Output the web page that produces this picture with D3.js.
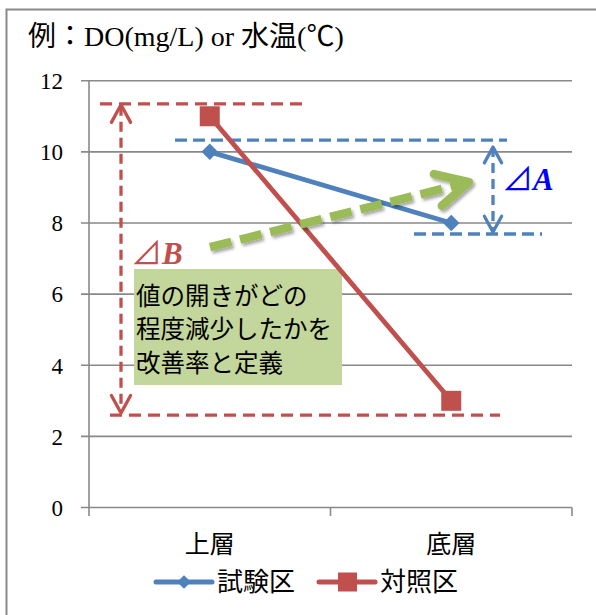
<!DOCTYPE html>
<html>
<head>
<meta charset="utf-8">
<script src="https://cdn.jsdelivr.net/npm/d3@7/dist/d3.min.js"></script>
<style>
  html, body { margin: 0; padding: 0; background: #fff; }
  svg { display: block; }
  text { font-family: 'Liberation Serif', 'Noto Sans CJK JP', serif; fill: #000; }
</style>
</head>
<body>
<svg id="chart" width="596" height="615"></svg>
<script>
// Layers and series
const categories = ["上層", "底層"];
const seriesNames = ["試験区", "対照区"];
const testValues = [10, 8];      // 試験区
const controlValues = [11, 3];   // 対照区
const yTicks = [0, 2, 4, 6, 8, 10, 12];
const titleText = "例：DO(mg/L) or 水温(℃)";
const noteLines = ["値の開きがどの", "程度減少したかを", "改善率と定義"];

const BLUE = "#4f81bd", RED = "#c0504d", GREEN = "#9bbb59", GRID = "#898989";
const SERIF = "'Liberation Serif', 'Noto Sans CJK JP', serif";

const svg = d3.select("#chart");
const W = 596, H = 615;
const plot = { left: 89, right: 572, top: 80.7, bottom: 507.5 };

const x = d3.scaleBand().domain(categories).range([plot.left, plot.right]).padding(0);
const xc = c => x(c) + x.bandwidth() / 2;
const y = d3.scaleLinear().domain([0, 12]).range([plot.bottom, plot.top]);

// drop shadow for the green arrow
const defs = svg.append("defs");
const f = defs.append("filter").attr("id", "shadow").attr("x", "-10%").attr("y", "-30%")
  .attr("width", "130%").attr("height", "170%");
f.append("feDropShadow").attr("dx", 2).attr("dy", 2.5).attr("stdDeviation", 1.6)
  .attr("flood-color", "#000").attr("flood-opacity", 0.35);

// outer frame (top and left edges visible)
svg.append("path").attr("d", `M6.5,${H} V9.5 H${W}`)
  .attr("fill", "none").attr("stroke", GRID).attr("stroke-width", 2);

// title
svg.append("text").attr("x", 28).attr("y", 46).attr("font-family", SERIF)
  .attr("font-size", 28).text(titleText);

// gridlines
svg.append("g").selectAll("line").data(yTicks).join("line")
  .attr("x1", plot.left - 8).attr("x2", plot.right)
  .attr("y1", d => y(d)).attr("y2", d => y(d))
  .attr("stroke", GRID).attr("stroke-width", 1.6);

// y axis line
svg.append("line").attr("x1", plot.left).attr("x2", plot.left)
  .attr("y1", plot.top).attr("y2", plot.bottom)
  .attr("stroke", GRID).attr("stroke-width", 1.6);

// x axis tick marks at band boundaries
const bounds = [plot.left, ...categories.slice(1).map(c => x(c)), plot.right];
svg.append("g").selectAll("line").data(bounds).join("line")
  .attr("x1", d => d).attr("x2", d => d)
  .attr("y1", plot.bottom).attr("y2", plot.bottom + 8.5)
  .attr("stroke", GRID).attr("stroke-width", 1.6);

// y labels
svg.append("g").selectAll("text").data(yTicks).join("text")
  .attr("x", 63).attr("y", d => y(d)).attr("dy", "0.36em")
  .attr("text-anchor", "end").attr("font-family", "'DejaVu Serif', serif")
  .attr("font-size", 23).text(d => d);

// x labels
svg.append("g").selectAll("text").data(categories).join("text")
  .attr("x", d => xc(d)).attr("y", 544).attr("dy", "0.36em")
  .attr("text-anchor", "middle").attr("font-size", 25).text(d => d);

// annotation helpers
function dashed(g, x1, y1, x2, y2, color, w, dash) {
  g.append("line").attr("x1", x1).attr("y1", y1).attr("x2", x2).attr("y2", y2)
    .attr("stroke", color).attr("stroke-width", w).attr("stroke-dasharray", dash);
}
function chevron(g, tx, ty, fx, fy, len, ang, color, w) {
  const a = Math.atan2(fy - ty, fx - tx);
  const p1 = [tx + len * Math.cos(a + ang), ty + len * Math.sin(a + ang)];
  const p2 = [tx + len * Math.cos(a - ang), ty + len * Math.sin(a - ang)];
  g.append("path").attr("d", `M${p1}L${tx},${ty}L${p2}`)
    .attr("fill", "none").attr("stroke", color).attr("stroke-width", w)
    .attr("stroke-linecap", "round").attr("stroke-linejoin", "round");
}

const ann = svg.append("g");

// control-plot span (⊿B)
const redTop = 11.35, redBottom = 2.6, redX = 121;
dashed(ann, 100, y(redTop), 305, y(redTop), RED, 3.3, "12,7");
dashed(ann, 110, y(redBottom), 500, y(redBottom), RED, 3.3, "12,7");
dashed(ann, redX, y(redTop) + 2, redX, y(redBottom) - 2, RED, 3.3, "10,6");
chevron(ann, redX, y(redTop) + 1, redX, y(redBottom), 20, 0.5, RED, 3.3);
chevron(ann, redX, y(redBottom) - 2, redX, y(redTop), 20, 0.5, RED, 3.3);

// test-plot span (⊿A)
const blueTop = 10.33, blueBottom = 7.69, blueX = 493;
dashed(ann, 175, y(blueTop), 507, y(blueTop), BLUE, 3.3, "12,6");
dashed(ann, 414, y(blueBottom), 542, y(blueBottom), BLUE, 3.3, "12,6");
dashed(ann, blueX, y(blueTop) + 7, blueX, y(blueBottom) - 2, BLUE, 3.3, "10,6");
chevron(ann, blueX, y(blueTop) + 7, blueX, y(blueBottom), 18, 0.5, BLUE, 3.3);
chevron(ann, blueX, y(blueBottom) - 2, blueX, y(blueTop), 18, 0.5, BLUE, 3.3);

// note box
ann.append("rect").attr("x", 134).attr("y", 269).attr("width", 208).attr("height", 116)
  .attr("fill", "#c3d69b");
ann.append("g").selectAll("text").data(noteLines).join("text")
  .attr("x", 136).attr("y", (d, i) => 296 + i * 33.5).attr("dy", "0.35em")
  .attr("font-size", 24.5).text(d => d);

// series lines
const line = d3.line().x(d => xc(d.c)).y(d => y(d.v));
const testPts = categories.map((c, i) => ({ c, v: testValues[i] }));
const ctrlPts = categories.map((c, i) => ({ c, v: controlValues[i] }));

svg.append("path").datum(testPts).attr("d", line)
  .attr("fill", "none").attr("stroke", BLUE).attr("stroke-width", 4.8).attr("stroke-linecap", "round");
svg.append("path").datum(ctrlPts).attr("d", line)
  .attr("fill", "none").attr("stroke", RED).attr("stroke-width", 4.8).attr("stroke-linecap", "round");

const diamond = d3.symbol().type(d3.symbolDiamond2).size(175);
svg.append("g").selectAll("path").data(testPts).join("path")
  .attr("transform", d => `translate(${xc(d.c)},${y(d.v)})`)
  .attr("d", diamond).attr("fill", BLUE);
svg.append("g").selectAll("rect").data(ctrlPts).join("rect")
  .attr("x", d => xc(d.c) - 10).attr("y", d => y(d.v) - 10)
  .attr("width", 20).attr("height", 20).attr("fill", RED);

// green trend arrow
const gA = svg.append("g").attr("filter", "url(#shadow)");
const g0 = [210, y(7.32)], g1 = [469, y(9.15)];
dashed(gA, g0[0], g0[1], g1[0] - 6, g1[1] + 1.5, GREEN, 8.5, "22,9");
chevron(gA, g1[0], g1[1], g0[0], g0[1], 36, 0.47, GREEN, 8.5);

// ⊿ labels
const la = svg.append("text").attr("x", 502).attr("y", 190).attr("font-size", 31).attr("fill", "#0000ff");
la.append("tspan").attr("fill", "#0000ff").text("⊿");
la.append("tspan").attr("fill", "#0000ff").attr("font-style", "italic").attr("font-weight", "bold").text("A");
const lb = svg.append("text").attr("x", 131).attr("y", 264).attr("font-size", 31).attr("fill", RED);
lb.append("tspan").attr("fill", RED).text("⊿");
lb.append("tspan").attr("fill", RED).attr("font-style", "italic").attr("font-weight", "bold").text("B");

// legend
const legend = svg.append("g");
const legendItems = [
  { name: seriesNames[0], color: BLUE, x0: 156, shape: "diamond" },
  { name: seriesNames[1], color: RED, x0: 319, shape: "square" }
];
const ly = 582;
legendItems.forEach(it => {
  legend.append("line").attr("x1", it.x0).attr("x2", it.x0 + 56).attr("y1", ly).attr("y2", ly)
    .attr("stroke", it.color).attr("stroke-width", 5).attr("stroke-linecap", "round");
  if (it.shape === "diamond") {
    legend.append("path").attr("transform", `translate(${it.x0 + 28},${ly})`)
      .attr("d", d3.symbol().type(d3.symbolDiamond2).size(120)).attr("fill", it.color);
  } else {
    legend.append("rect").attr("x", it.x0 + 19).attr("y", ly - 9.5).attr("width", 19).attr("height", 19)
      .attr("fill", it.color);
  }
  legend.append("text").attr("x", it.x0 + 61).attr("y", ly).attr("dy", "0.36em")
    .attr("font-size", 26).text(it.name);
});
</script>
</body>
</html>
